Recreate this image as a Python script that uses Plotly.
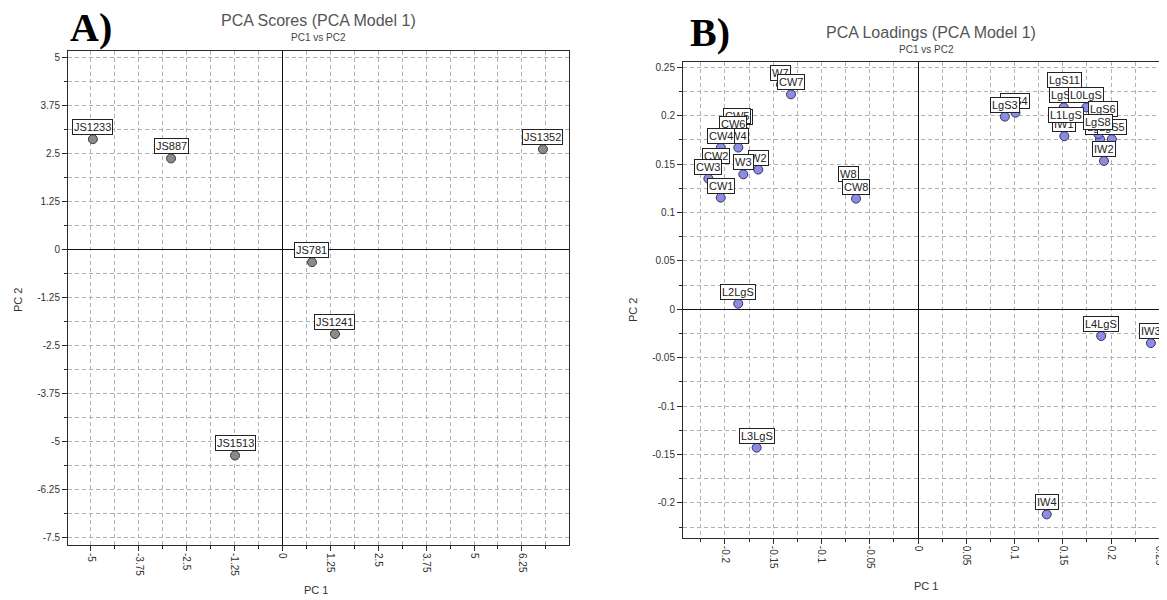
import plotly.graph_objects as go

# ---------------- data ----------------
score_labels = ["JS1233", "JS887", "JS781", "JS1241", "JS1352", "JS1513"]
score_pc1 = [-4.95, -2.91, 0.77, 1.37, 6.80, -1.24]
score_pc2 = [2.87, 2.37, -0.33, -2.20, 2.61, -5.36]

# loadings, listed in drawing order (later labels sit on top)
loading_labels = ["W7", "CW7", "W5", "W6", "CW5", "CW6", "W4", "CW4", "CW2", "CW3",
                  "CW1", "W2", "W3", "W8", "CW8", "L2LgS", "L3LgS",
                  "LgS4", "LgS3", "LgS11", "LgS9", "L0LgS", "IW1", "L1LgS",
                  "LgS6", "LgS7", "LgS5", "LgS8", "IW2", "L4LgS", "IW3", "IW4"]
loading_pc1 = [-0.142, -0.1316, -0.1825, -0.1815, -0.1876, -0.1913, -0.1862, -0.2043, -0.2095, -0.2172,
               -0.2044, -0.1655, -0.181, -0.0725, -0.0642, -0.1863, -0.1672,
               0.101, 0.090, 0.152, 0.151, 0.1744, 0.1516, 0.1534,
               0.192, 0.1886, 0.2008, 0.1869, 0.1927, 0.1898, 0.2413, 0.1334]
loading_pc2 = [0.232, 0.222, 0.1865, 0.1862, 0.187, 0.179, 0.167, 0.167, 0.146, 0.135,
               0.1153, 0.1443, 0.1394, 0.1273, 0.1143, 0.0058, -0.1429,
               0.203, 0.199, 0.224, 0.2085, 0.2085, 0.1788, 0.1884,
               0.194, 0.1757, 0.1757, 0.181, 0.1532, -0.0276, -0.0349, -0.2118]

scores_x_tickvals = [-5, -3.75, -2.5, -1.25, 0, 1.25, 2.5, 3.75, 5, 6.25]
scores_x_ticktext = ["-5", "-3.75", "-2.5", "-1.25", "0", "1.25", "2.5", "3.75", "5", "6.25"]
scores_y_tickvals = [5, 3.75, 2.5, 1.25, 0, -1.25, -2.5, -3.75, -5, -6.25, -7.5]
scores_y_ticktext = ["5", "3.75", "2.5", "1.25", "0", "-1.25", "-2.5", "-3.75", "-5", "-6.25", "-7.5"]

load_x_tickvals = [-0.2, -0.15, -0.1, -0.05, 0, 0.05, 0.1, 0.15, 0.2, 0.25]
load_x_ticktext = ["-0.2", "-0.15", "-0.1", "-0.05", "0", "0.05", "0.1", "0.15", "0.2", "0.25"]
load_y_tickvals = [0.25, 0.2, 0.15, 0.1, 0.05, 0, -0.05, -0.1, -0.15, -0.2]
load_y_ticktext = ["0.25", "0.2", "0.15", "0.1", "0.05", "0", "-0.05", "-0.1", "-0.15", "-0.2"]

# ---------------- layout helpers ----------------
OFF = 8                       # page body margin of the html page
W, H = 1167 - OFF, 600 - OFF  # figure size so it fills the window
FONT = "Liberation Sans, Arial, sans-serif"


def px(x):
    return (x - OFF) / W


def py(y):
    return 1 - (y - OFF) / H


GRID = "#b2b2b2"
LINE = "#2b2b2b"


def axis(tickvals, ticktext, rng, domain, minor_dtick, anchor, mirror, angle=0):
    return dict(
        range=rng, domain=domain, anchor=anchor,
        tickmode="array", tickvals=tickvals, ticktext=ticktext, tickangle=angle,
        showline=True, linecolor=LINE, linewidth=1, mirror=mirror,
        ticks="outside", ticklen=5, tickcolor=LINE, tickwidth=1,
        tickfont=dict(family=FONT, size=10, color="#333333"),
        showgrid=True, gridcolor=GRID, griddash="4px,3px", gridwidth=1,
        zeroline=True, zerolinecolor="#111111", zerolinewidth=1,
        minor=dict(tickmode="linear", tick0=0, dtick=minor_dtick, ticks="outside",
                   ticklen=3, tickcolor=LINE, showgrid=True, gridcolor=GRID,
                   griddash="4px,3px", gridwidth=1),
        automargin=False, fixedrange=True,
    )


fig = go.Figure()

fig.add_trace(go.Scatter(
    x=score_pc1, y=score_pc2, mode="markers", xaxis="x", yaxis="y",
    marker=dict(size=9, color="#8a8a8a", line=dict(color="#3a3a3a", width=1)),
    hoverinfo="text", text=score_labels, showlegend=False))

fig.add_trace(go.Scatter(
    x=loading_pc1, y=loading_pc2, mode="markers", xaxis="x2", yaxis="y2",
    marker=dict(size=9, color="#8c8ce4", line=dict(color="#33335e", width=1)),
    hoverinfo="text", text=loading_labels, showlegend=False))

annotations = []


def label(x, y, t, xref, yref):
    annotations.append(dict(
        x=x, y=y, xref=xref, yref=yref, text=t, showarrow=False,
        xanchor="center", yanchor="bottom", yshift=4,
        font=dict(family=FONT, size=11, color="#222222"),
        bgcolor="white", bordercolor="#222222", borderwidth=1, borderpad=1))


for xv, yv, t in zip(score_pc1, score_pc2, score_labels):
    label(xv, yv, t, "x", "y")
for xv, yv, t in zip(loading_pc1, loading_pc2, loading_labels):
    label(xv, yv, t, "x2", "y2")


def text(x, y, t, size, color="#444444", family=FONT, angle=0, xanchor="center"):
    annotations.append(dict(
        x=px(x), y=py(y), xref="paper", yref="paper", text=t, showarrow=False,
        xanchor=xanchor, yanchor="middle", textangle=angle,
        font=dict(family=family, size=size, color=color)))


text(68, 28, "<b>A)</b>", 40, "#000000", "Liberation Serif, Times New Roman, serif", xanchor="left")
text(688, 32, "<b>B)</b>", 40, "#000000", "Liberation Serif, Times New Roman, serif", xanchor="left")
text(318.5, 21, "PCA Scores (PCA Model 1)", 16, "#555555")
text(318.5, 38, "PC1 vs PC2", 10, "#444444")
text(931, 33, "PCA Loadings (PCA Model 1)", 16, "#555555")
text(926, 49.5, "PC1 vs PC2", 10, "#444444")
text(316, 590, "PC 1", 11, "#333333")
text(18, 300, "PC 2", 11, "#333333", angle=-90)
text(926, 586, "PC 1", 11, "#333333")
text(633, 310, "PC 2", 11, "#333333", angle=-90)

fig.update_layout(
    width=W, height=H, autosize=False,
    margin=dict(l=0, r=0, t=0, b=0, pad=0),
    paper_bgcolor="white", plot_bgcolor="white",
    template="none",
    xaxis=axis(scores_x_tickvals, scores_x_ticktext, [-5.6, 7.48],
               [px(68), px(569)], 0.625, "y", True, 90),
    yaxis=axis(scores_y_tickvals, scores_y_ticktext, [-7.69, 5.165],
               [py(545), py(51)], 0.625, "x", True),
    xaxis2=axis(load_x_tickvals, load_x_ticktext, [-0.2435, 0.258],
                [px(683), 1.0], 0.025, "y2", True, 90),
    yaxis2=axis(load_y_tickvals, load_y_ticktext, [-0.236, 0.2557],
                [py(537.8), py(61.7)], 0.025, "x2", False),
    annotations=annotations,
    showlegend=False,
)

fig.write_html("out.html")
